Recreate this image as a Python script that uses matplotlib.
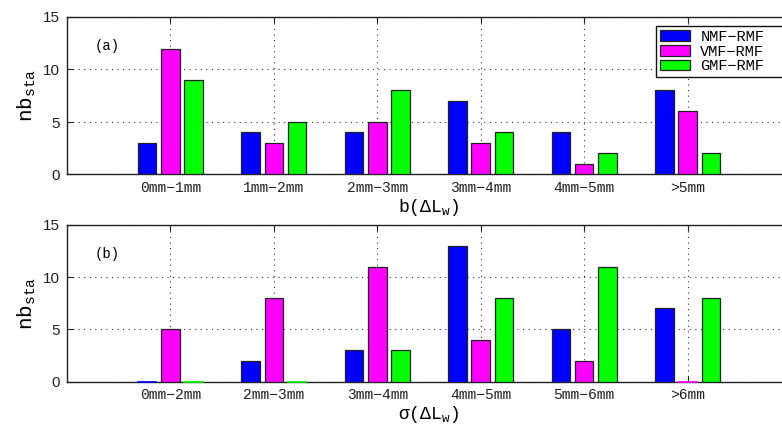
import numpy as np
import matplotlib
matplotlib.use("Agg")
import matplotlib.pyplot as plt

# data
cats_a = ["0mm\u22121mm", "1mm\u22122mm", "2mm\u22123mm", "3mm\u22124mm", "4mm\u22125mm", ">5mm"]
cats_b = ["0mm\u22122mm", "2mm\u22123mm", "3mm\u22124mm", "4mm\u22125mm", "5mm\u22126mm", ">6mm"]
series = ["NMF\u2212RMF", "VMF\u2212RMF", "GMF\u2212RMF"]
colors = ["#0000ff", "#ff00ff", "#00ff00"]

nmf_a = [3, 4, 4, 7, 4, 8]
vmf_a = [12, 3, 5, 3, 1, 6]
gmf_a = [9, 5, 8, 4, 2, 2]

nmf_b = [0, 2, 3, 13, 5, 7]
vmf_b = [5, 8, 11, 4, 2, 0]
gmf_b = [0, 0, 3, 8, 11, 8]

mono = "Liberation Mono"
sans = "Liberation Sans"
plt.rcParams["mathtext.fontset"] = "custom"
plt.rcParams["mathtext.rm"] = mono
plt.rcParams["mathtext.it"] = mono

fig = plt.figure(figsize=(7.82, 4.30), dpi=100)
ax_a = fig.add_axes([67 / 782, 1 - 174.5 / 430, 724 / 782, 157.5 / 430])
ax_b = fig.add_axes([67 / 782, 1 - 381.5 / 430, 724 / 782, 156.5 / 430])


def draw(ax, cats, vals, tag, xlabel, legend=False):
    x = np.arange(1, len(cats) + 1)
    width = 0.18
    offsets = [-0.225, 0.0, 0.225]
    for i, v in enumerate(vals):
        ax.bar(x + offsets[i], v, width, color=colors[i], edgecolor="#222222",
               linewidth=0.9, label=series[i], zorder=3)
        # zero-height bars still show as a thin line in the original
        for xi, vi in zip(x, v):
            if vi == 0:
                ax.plot([xi + offsets[i] - width / 2, xi + offsets[i] + width / 2], [0, 0],
                        color=colors[i], linewidth=1.2, zorder=4, clip_on=False)
    ax.set_xlim(0, 7)
    ax.set_ylim(0, 15)
    ax.set_xticks(x)
    ax.set_xticklabels(cats, fontfamily=mono, fontsize=10.5)
    ax.set_yticks([0, 5, 10, 15])
    ax.set_yticklabels(["0", "5", "10", "15"], fontfamily=sans, fontsize=11)
    ax.tick_params(direction="in", top=True, right=True, length=4, width=0.8,
                   pad=5, colors="#222222")
    ax.grid(True, linestyle=(0, (1, 4)), color="#333333", linewidth=0.8, zorder=0)
    for s in ax.spines.values():
        s.set_color("#222222")
        s.set_linewidth(1.0)
    ax.text(0.27, 12.2, tag, fontfamily=mono, fontsize=10, va="center", ha="left")
    ax.set_ylabel(r"$\mathrm{nb}_{\mathrm{sta}}$", fontsize=15, labelpad=4)
    ax.set_xlabel(xlabel, fontsize=13, labelpad=1)
    if legend:
        # the legend frame runs past the right edge of the figure in the original
        leg = ax.legend(loc="upper left", bbox_to_anchor=(0.8135, 0.943, 0.185, 0),
                        mode="expand",
                        prop={"family": mono, "size": 11},
                        fancybox=False, framealpha=1, edgecolor="#111111",
                        handlelength=2.0, handleheight=0.72, borderpad=0.25,
                        labelspacing=0.05, handletextpad=0.65, borderaxespad=0)
        leg.get_frame().set_linewidth(1.0)


draw(ax_a, cats_a, [nmf_a, vmf_a, gmf_a], "(a)", r"$\mathrm{b}(\Delta\mathrm{L}_{\mathrm{w}})$", legend=True)
draw(ax_b, cats_b, [nmf_b, vmf_b, gmf_b], "(b)", r"$\sigma(\Delta\mathrm{L}_{\mathrm{w}})$")

fig.savefig("out.png", dpi=100)
